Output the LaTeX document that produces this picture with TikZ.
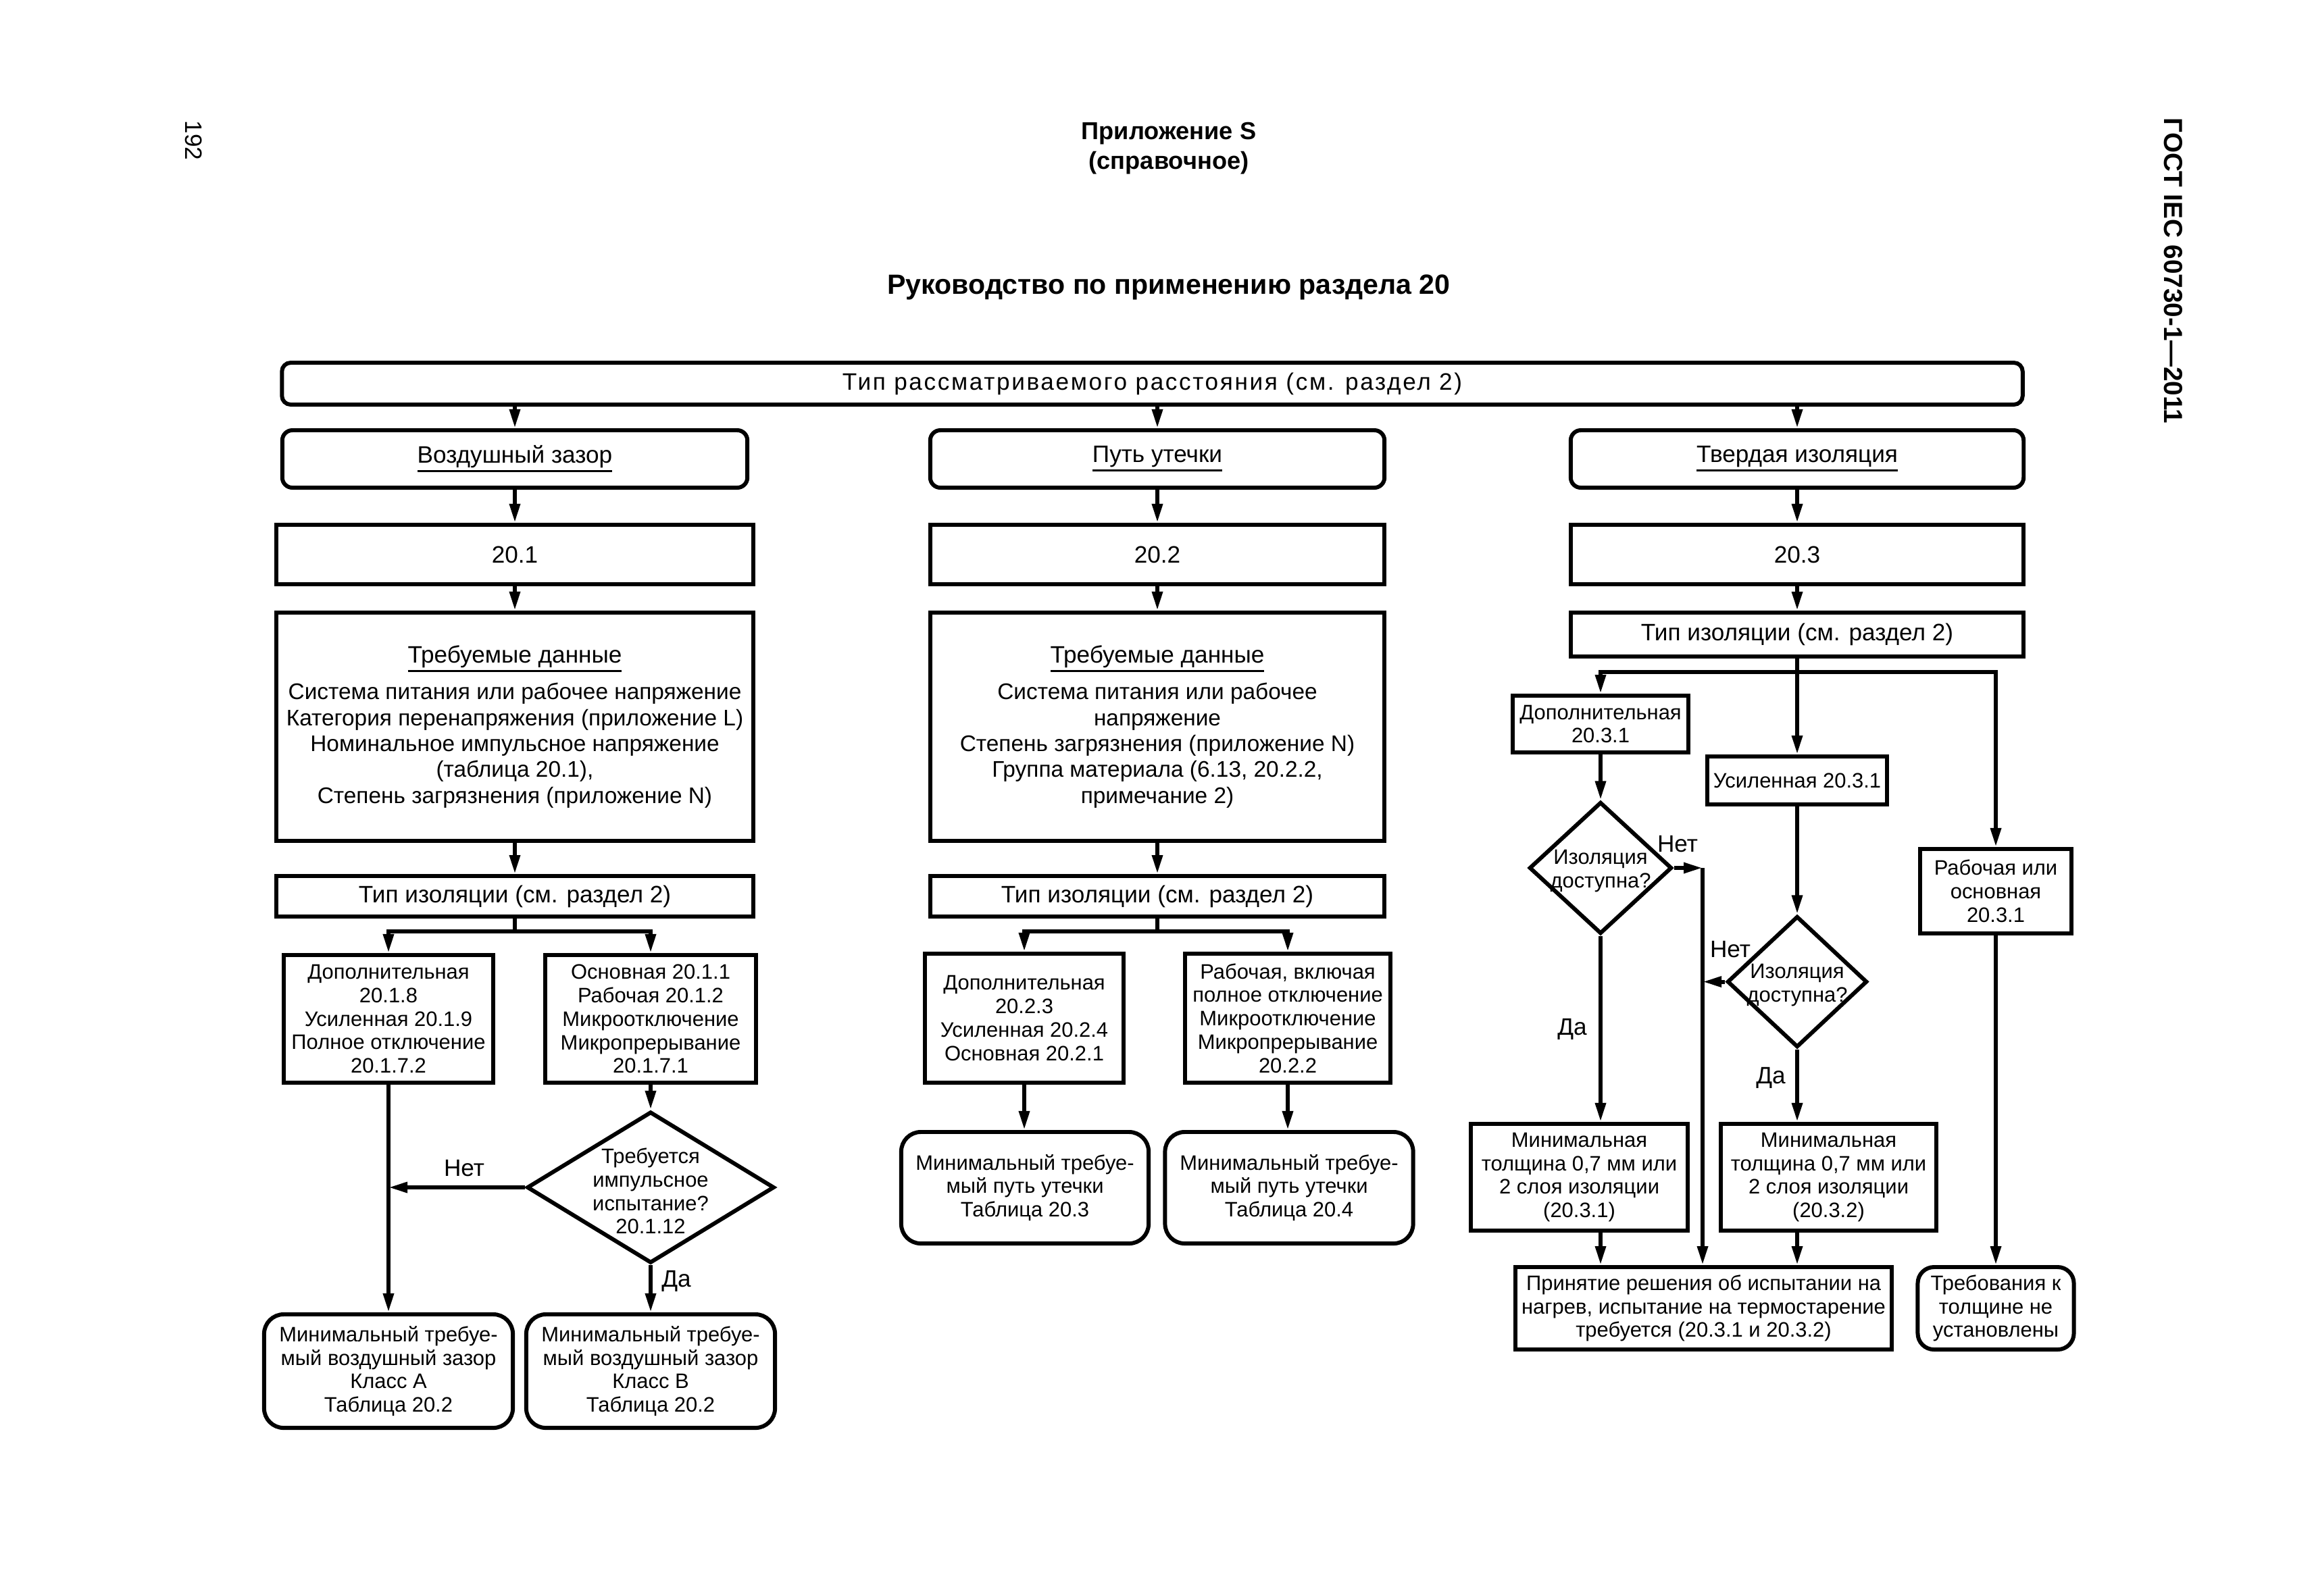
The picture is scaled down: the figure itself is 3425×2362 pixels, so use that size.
\documentclass[tikz,border=0pt]{standalone}
\usepackage{fontspec}
\setmainfont{Liberation Sans}
\usetikzlibrary{arrows.meta,shapes.geometric}

\newcommand{\bigsz}{\fontsize{10}{10.9}\selectfont}
\newcommand{\bodysz}{\fontsize{9.5}{10.9}\selectfont}
\newcommand{\smsz}{\fontsize{8.8}{9.9}\selectfont}
\newcommand{\topsz}{\bigsz\addfontfeatures{LetterSpace=7.5}}
\newsavebox{\ulbox}
\newcommand{\ulin}[1]{\sbox{\ulbox}{#1}\rlap{\rule[-3.9pt]{\wd\ulbox}{1pt}}\usebox{\ulbox}}
\newcommand{\dtxt}[2][-2.5pt]{\makebox[0pt]{\raisebox{#1}[0pt][0pt]{\begin{tabular}{@{}c@{}}#2\end{tabular}}}}

\begin{document}
\begin{tikzpicture}[x=0.01cm,y=-0.01cm,
  box/.style={draw,line width=1.7pt,align=center,inner sep=0pt,font=\bigsz},
  sbox/.style={box,font=\smsz},
  rbox/.style={box,rounded corners=1.5mm,minimum height=0.85cm},
  rsbox/.style={sbox,rounded corners=2.9mm},
  dec/.style={diamond,draw,line width=1.7pt,inner sep=0pt,aspect=1,font=\smsz},
  arr/.style={line width=1.7pt,-{Triangle[length=2.8mm,width=1.5mm]}},
  ln/.style={line width=1.7pt},
  lbl/.style={font=\bigsz,inner sep=0pt}]
  \useasboundingbox (0,0) rectangle (3425,2362);

  \node[font=\fontsize{10}{12}\selectfont,rotate=-90] (pg) at (287,208) {192};
  \node[font=\bfseries\fontsize{11}{13}\selectfont,rotate=-90] (gost) at (3217,401) {ГОСТ IEC 60730-1—2011};
  \node[font=\bfseries\fontsize{10.3}{12}\selectfont,anchor=base] (app) at (1730,206) {Приложение S};
  \node[font=\bfseries\fontsize{10.3}{12}\selectfont,anchor=base] (ref) at (1730,250) {(справочное)};
  \node[font=\bfseries\fontsize{11.7}{14}\selectfont,anchor=base] (ttl) at (1730,435) {Руководство по применению раздела 20};

  \node[box,font=\topsz,rounded corners=1.3mm,minimum width=25.75cm,minimum height=0.62cm] (top) at (1705.5,568) {Тип рассматриваемого расстояния (см. раздел 2)};

  \node[rbox,minimum width=6.88cm] (air) at (762,679.5) {\ulin{Воздушный зазор}};
  \node[rbox,minimum width=6.72cm] (crp) at (1713,679.5) {\ulin{Путь утечки}};
  \node[rbox,minimum width=6.70cm] (sol) at (2660,679.5) {\ulin{Твердая изоляция}};

  \node[box,minimum width=7.06cm,minimum height=0.88cm] (s1) at (762,821) {20.1};
  \node[box,minimum width=6.72cm,minimum height=0.88cm] (s2) at (1713,821) {20.2};
  \node[box,minimum width=6.70cm,minimum height=0.88cm] (s3) at (2660,821) {20.3};

  \node[box,font=\bodysz,minimum width=7.06cm,minimum height=3.38cm] (dat1) at (762,1076) {\ulin{\bigsz Требуемые данные}\\[4.5pt]
    Система питания или рабочее напряжение\\ Категория перенапряжения (приложение L)\\
    Номинальное импульсное напряжение\\ (таблица 20.1),\\ Степень загрязнения (приложение N)};
  \node[box,font=\bodysz,minimum width=6.72cm,minimum height=3.38cm] (dat2) at (1713,1076) {\ulin{\bigsz Требуемые данные}\\[4.5pt]
    Система питания или рабочее\\ напряжение\\ Степень загрязнения (приложение N)\\
    Группа материала (6.13, 20.2.2,\\ примечание 2)};
  \node[box,minimum width=6.70cm,minimum height=0.65cm] (ins3) at (2660,939.5) {Тип изоляции (см. раздел 2)};

  \node[box,minimum width=7.06cm,minimum height=0.60cm] (ins1) at (762,1327) {Тип изоляции (см. раздел 2)};
  \node[box,minimum width=6.72cm,minimum height=0.60cm] (ins2) at (1713,1327) {Тип изоляции (см. раздел 2)};

  \node[sbox,minimum width=3.10cm,minimum height=1.89cm] (l1) at (575,1508.5) {Дополнительная\\ 20.1.8\\ Усиленная 20.1.9\\ Полное отключение\\ 20.1.7.2};
  \node[sbox,minimum width=3.12cm,minimum height=1.89cm] (l2) at (963,1508.5) {Основная 20.1.1\\ Рабочая 20.1.2\\ Микроотключение\\ Микропрерывание\\ 20.1.7.1};
  \node[dec,minimum width=3.66cm,minimum height=2.24cm] (q1) at (963,1758) {\dtxt[-5pt]{Требуется\\ импульсное\\ испытание?\\ 20.1.12}};
  \node[rsbox,minimum width=3.68cm,minimum height=1.68cm] (fa) at (575,2030) {Минимальный требуе-\\ мый воздушный зазор\\ Класс A\\ Таблица 20.2};
  \node[rsbox,minimum width=3.68cm,minimum height=1.68cm] (fb) at (963,2030) {Минимальный требуе-\\ мый воздушный зазор\\ Класс B\\ Таблица 20.2};
  \node[lbl] (no0) at (687,1730) {Нет};
  \node[lbl] (yes0) at (1001,1897) {Да};

  \node[sbox,minimum width=2.94cm,minimum height=1.91cm] (m1) at (1516,1507.5) {Дополнительная\\ 20.2.3\\ Усиленная 20.2.4\\ Основная 20.2.1};
  \node[sbox,minimum width=3.04cm,minimum height=1.91cm] (m2) at (1906,1507.5) {Рабочая, включая\\ полное отключение\\ Микроотключение\\ Микропрерывание\\ 20.2.2};
  \node[rsbox,minimum width=3.66cm,minimum height=1.65cm] (fm1) at (1517,1758.5) {Минимальный требуе-\\ мый путь утечки\\ Таблица 20.3};
  \node[rsbox,minimum width=3.67cm,minimum height=1.65cm] (fm2) at (1908,1758.5) {Минимальный требуе-\\ мый путь утечки\\ Таблица 20.4};

  \node[sbox,minimum width=2.60cm,minimum height=0.84cm] (ad3) at (2369,1072) {Дополнительная\\ 20.3.1};
  \node[sbox,minimum width=2.65cm,minimum height=0.71cm] (re3) at (2660,1155.5) {Усиленная 20.3.1};
  \node[sbox,minimum width=2.23cm,minimum height=1.25cm] (wk3) at (2954,1319.5) {Рабочая или\\ основная\\ 20.3.1};
  \node[dec,minimum width=2.11cm,minimum height=1.95cm] (q2) at (2369,1285) {\dtxt[-3.7pt]{Изоляция\\ доступна?}};
  \node[dec,minimum width=2.07cm,minimum height=1.94cm] (q3) at (2660,1453.5) {\dtxt[-3.7pt]{Изоляция\\ доступна?}};
  \node[sbox,minimum width=3.21cm,minimum height=1.58cm] (mt1) at (2337.5,1743) {Минимальная\\ толщина 0,7 мм или\\ 2 слоя изоляции\\ (20.3.1)};
  \node[sbox,minimum width=3.19cm,minimum height=1.58cm] (mt2) at (2706.5,1743) {Минимальная\\ толщина 0,7 мм или\\ 2 слоя изоляции\\ (20.3.2)};
  \node[sbox,minimum width=5.57cm,minimum height=1.22cm] (tst) at (2521.5,1937) {Принятие решения об испытании на\\ нагрев, испытание на термостарение\\ требуется (20.3.1 и 20.3.2)};
  \node[rsbox,rounded corners=2.4mm,minimum width=2.31cm,minimum height=1.22cm] (nrq) at (2954,1937) {Требования к\\ толщине не\\ установлены};
  \node[lbl] (no1) at (2483,1250) {Нет};
  \node[lbl] (no2) at (2561,1406) {Нет};
  \node[lbl] (yes1) at (2327,1524) {Да};
  \node[lbl] (yes2) at (2621,1596) {Да};

  \draw[arr] (air.north |- top.south) -- (air.north);
  \draw[arr] (crp.north |- top.south) -- (crp.north);
  \draw[arr] (sol.north |- top.south) -- (sol.north);
  \draw[arr] (air) -- (s1);
  \draw[arr] (crp) -- (s2);
  \draw[arr] (sol) -- (s3);
  \draw[arr] (s1) -- (dat1);
  \draw[arr] (s2) -- (dat2);
  \draw[arr] (s3) -- (ins3);
  \draw[arr] (dat1) -- (ins1);
  \draw[arr] (dat2) -- (ins2);

  \coordinate (j1) at (762,1379);
  \draw[ln] (ins1) -- (j1);
  \draw[arr] (j1) -| (l1.north);
  \draw[arr] (j1) -| (l2.north);
  \draw[arr] (l2) -- (q1);
  \draw[arr] (l1) -- (fa);
  \draw[arr] (q1) -- (fb);
  \draw[arr] (q1.west) -- (q1.west -| l1.south);

  \coordinate (j2) at (1713,1379);
  \draw[ln] (ins2) -- (j2);
  \draw[arr] (j2) -| (m1.north);
  \draw[arr] (j2) -| (m2.north);
  \draw[arr] (m1.south) -- (m1.south |- fm1.north);
  \draw[arr] (m2.south) -- (m2.south |- fm2.north);

  \coordinate (j3) at (2660,995);
  \draw[ln] (ins3) -- (j3);
  \draw[arr] (j3) -| (ad3.north);
  \draw[arr] (j3) -- (re3);
  \draw[arr] (j3) -| (wk3.north);
  \draw[arr] (ad3) -- (q2);
  \draw[arr] (re3) -- (q3);
  \draw[arr] (q2) -- (q2 |- mt1.north);
  \draw[arr] (q3) -- (q3 |- mt2.north);
  \draw[arr] (q2 |- mt1.south) -- (q2 |- tst.north);
  \draw[arr] (q3 |- mt2.south) -- (q3 |- tst.north);
  \coordinate (nl) at (2520,1285);
  \draw[arr] (q2.east) -- (nl);
  \draw[arr] (nl) -- (nl |- tst.north);
  \draw[arr] (q3.west) -- (q3.west -| nl);
  \draw[arr] (wk3) -- (nrq);
\end{tikzpicture}
\end{document}
